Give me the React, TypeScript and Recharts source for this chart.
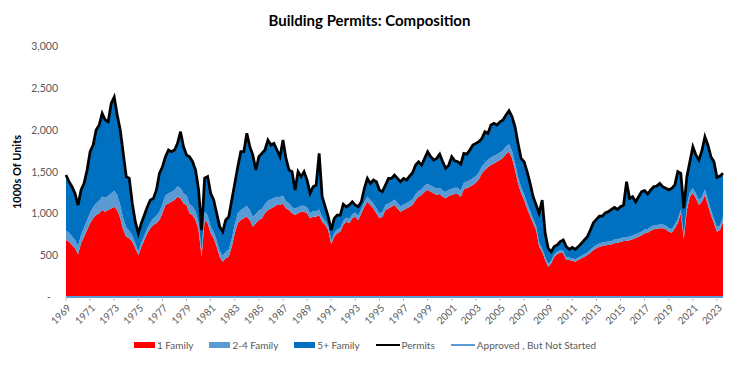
import React from 'react';
import { ComposedChart, Area, Line, XAxis, YAxis } from 'recharts';

// quarterly readings, thousands of units (SAAR), first point = 1969 Q1
const START_YEAR = 1969;

const permits = [
  1458, 1378, 1318, 1239, // 1969
  1099, 1279, 1358, 1518,
  1737, 1816, 1996, 2055,
  2195, 2115, 2095, 2314,
  2390, 2175, 1996, 1717,
  1438, 1418, 1119, 900,
  760, 881, 980, 1079,
  1159, 1179, 1279, 1478,
  1557, 1677, 1757, 1737,
  1757, 1836, 1976, 1796,
  1697, 1677, 1617, 1518, // 1979
  1279, 800, 1420, 1440,
  1239, 1159, 1000, 841,
  781, 920, 960, 1159,
  1358, 1557, 1737, 1737,
  1956, 1796, 1697, 1518,
  1677, 1717, 1757, 1876,
  1816, 1836, 1757, 1677,
  1876, 1657, 1518, 1498,
  1279, 1498, 1438, 1498,
  1398, 1239, 1318, 1338, // 1989
  1717, 1199, 1079, 960,
  800, 940, 980, 980,
  1110, 1079, 1099, 1139,
  1099, 1079, 1139, 1299,
  1418, 1358, 1398, 1378,
  1279, 1259, 1338, 1418,
  1418, 1458, 1418, 1378,
  1418, 1398, 1446, 1486,
  1577, 1617, 1577, 1657,
  1737, 1677, 1637, 1657, // 1999
  1708, 1617, 1538, 1577,
  1677, 1629, 1617, 1589,
  1717, 1708, 1757, 1816,
  1836, 1856, 1896, 1976,
  1956, 2055, 2075, 2055,
  2095, 2115, 2175, 2226,
  2155, 2035, 1836, 1657,
  1617, 1498, 1358, 1199,
  1100, 1000, 1159, 761,
  582, 542, 602, 622, // 2009
  661, 681, 602, 570,
  594, 570, 602, 641,
  681, 721, 801, 888,
  928, 968, 968, 1008,
  1020, 1047, 1071, 1047,
  1079, 1099, 1378, 1179,
  1199, 1139, 1199, 1259,
  1271, 1231, 1279, 1318,
  1326, 1358, 1318, 1299,
  1279, 1299, 1338, 1498, // 2019
  1478, 1060, 1438, 1617,
  1796, 1697, 1637, 1749,
  1916, 1816, 1677, 1617,
  1430, 1446, 1478,
];

const oneFamily = [
  681, 661, 622, 582, // 1969
  510, 641, 721, 801,
  881, 940, 980, 1000,
  1040, 1020, 1040, 1059,
  1079, 1040, 940, 801,
  721, 701, 661, 582,
  502, 602, 681, 761,
  821, 860, 881, 920,
  1000, 1099, 1119, 1139,
  1159, 1199, 1179, 1119,
  1099, 1000, 980, 920, // 1979
  801, 482, 920, 881,
  761, 701, 602, 482,
  422, 462, 482, 602,
  761, 881, 920, 940,
  960, 920, 841, 881,
  920, 940, 1000, 1040,
  1059, 1079, 1099, 1099,
  1119, 1059, 1040, 1000,
  980, 1000, 1020, 1020,
  1000, 940, 960, 960, // 1989
  980, 900, 860, 801,
  630, 721, 761, 781,
  860, 900, 881, 940,
  960, 920, 1000, 1079,
  1139, 1099, 1059, 1000,
  940, 960, 1040, 1059,
  1079, 1099, 1059, 1020,
  1040, 1059, 1079, 1099,
  1159, 1199, 1219, 1259,
  1279, 1259, 1239, 1219, // 1999
  1231, 1199, 1179, 1207,
  1219, 1231, 1231, 1199,
  1287, 1299, 1318, 1338,
  1366, 1406, 1478, 1518,
  1550, 1577, 1597, 1617,
  1637, 1665, 1708, 1737,
  1657, 1518, 1358, 1239,
  1159, 1059, 968, 881,
  800, 602, 540, 442,
  363, 402, 482, 514, // 2009
  530, 522, 442, 442,
  434, 422, 442, 462,
  482, 502, 530, 562,
  582, 602, 610, 618,
  622, 630, 641, 649,
  657, 669, 669, 677,
  689, 705, 721, 737,
  761, 769, 793, 809,
  817, 821, 821, 809,
  781, 769, 821, 880, // 2019
  1000, 689, 1040, 1199,
  1239, 1179, 1099, 1139,
  1219, 1099, 980, 881,
  781, 801, 900,
];

const twoToFour = [
  110, 110, 105, 100, // 1969
  100, 105, 110, 120,
  125, 135, 145, 150,
  160, 165, 170, 180,
  190, 180, 160, 140,
  110, 90, 70, 60,
  45, 50, 55, 60,
  70, 80, 90, 100,
  110, 115, 120, 120,
  120, 125, 125, 120,
  115, 110, 105, 100, // 1979
  90, 70, 100, 95,
  85, 80, 75, 70,
  70, 80, 85, 95,
  110, 120, 120, 125,
  130, 120, 115, 110,
  115, 115, 110, 110,
  110, 105, 100, 95,
  95, 85, 80, 75,
  75, 75, 70, 70,
  70, 65, 65, 65, // 1989
  65, 60, 55, 50,
  45, 45, 45, 45,
  50, 50, 50, 50,
  50, 50, 55, 55,
  60, 60, 60, 60,
  60, 60, 60, 60,
  60, 65, 65, 65,
  65, 65, 65, 70,
  70, 70, 70, 75,
  75, 75, 75, 75, // 1999
  75, 75, 75, 75,
  75, 75, 75, 75,
  80, 80, 80, 80,
  80, 85, 85, 85,
  90, 90, 90, 90,
  90, 90, 90, 90,
  90, 85, 80, 75,
  70, 65, 60, 55,
  50, 45, 40, 35,
  30, 30, 30, 30, // 2009
  30, 30, 30, 30,
  30, 30, 30, 30,
  30, 30, 35, 35,
  40, 40, 40, 40,
  40, 40, 45, 45,
  45, 45, 45, 45,
  45, 45, 45, 45,
  45, 45, 45, 45,
  45, 45, 45, 45,
  45, 45, 45, 50, // 2019
  50, 40, 50, 55,
  60, 60, 60, 60,
  65, 60, 60, 55,
  55, 55, 55,
];

const yearTicks = [
  1969, 1971, 1973, 1975, 1977, 1979, 1981, 1983, 1985, 1987, 1989, 1991, 1993, 1995,
  1997, 1999, 2001, 2003, 2005, 2007, 2009, 2011, 2013, 2015, 2017, 2019, 2021, 2023,
];
const valueTicks = [0, 500, 1000, 1500, 2000, 2500, 3000];

const RED = '#FF0000';
const LIGHT_BLUE = '#5B9BD5';
const DARK_BLUE = '#0070C0';
const FONT = 'Lato, "Liberation Sans", Arial, sans-serif';

const legendItems = [
  { label: '1 Family', color: RED, kind: 'box' },
  { label: '2-4 Family', color: LIGHT_BLUE, kind: 'box' },
  { label: '5+ Family', color: DARK_BLUE, kind: 'box' },
  { label: 'Permits', color: '#000000', kind: 'line' },
  { label: 'Approved , But Not Started', color: LIGHT_BLUE, kind: 'line' },
];

const data = permits.map((total, i) => ({
  t: START_YEAR + i / 4,
  oneFamily: oneFamily[i],
  twoToFour: twoToFour[i],
  fivePlus: total - oneFamily[i] - twoToFour[i],
  permits: total,
}));

function YTick(props: any) {
  const { x, y, payload } = props;
  const v = payload.value;
  const label = v === 0 ? '-' : v.toLocaleString('en-US');
  return (
    <text
      x={v === 0 ? x - 7 : x}
      y={y}
      dy={4}
      textAnchor="end"
      fill="#595959"
      fontSize={10.5}
      fontFamily={FONT}
    >
      {label}
    </text>
  );
}

function XTick(props: any) {
  const { x, y, payload } = props;
  return (
    <g transform={`translate(${x},${y})`}>
      <text
        x={0}
        y={0}
        dy={8}
        textAnchor="end"
        fill="#595959"
        fontSize={10}
        fontFamily={FONT}
        transform="rotate(-45)"
      >
        {payload.value}
      </text>
    </g>
  );
}

export default function App() {
  return (
    <div style={{ position: 'absolute', left: 0, top: 0, width: 739, height: 369, background: '#fff', fontFamily: FONT }}>
      <div
        style={{
          position: 'absolute',
          top: 10,
          left: 0,
          width: 739,
          textAlign: 'center',
          fontSize: 15,
          fontWeight: 700,
          color: '#000',
          lineHeight: '20px',
        }}
      >
        Building Permits: Composition
      </div>
      <div
        style={{
          position: 'absolute',
          left: 16,
          top: 172,
          transform: 'translate(-50%, -50%) rotate(-90deg)',
          fontSize: 11,
          fontWeight: 700,
          color: '#000',
          whiteSpace: 'nowrap',
        }}
      >
        1000s Of Units
      </div>
      <ComposedChart
        width={739}
        height={369}
        data={data}
        margin={{ top: 46, right: 16, left: 0, bottom: 22 }}
      >
        <XAxis
          dataKey="t"
          type="number"
          domain={[1969, 2023.5]}
          ticks={yearTicks}
          interval={0}
          height={50}
          axisLine={{ stroke: LIGHT_BLUE, strokeWidth: 2 }}
          tickLine={{ stroke: '#BFBFBF' }}
          tickSize={4}
          tick={<XTick />}
        />
        <YAxis
          domain={[0, 3000]}
          ticks={valueTicks}
          width={66}
          axisLine={false}
          tickLine={false}
          tick={<YTick />}
        />
        <Area
          type="linear"
          dataKey="oneFamily"
          name="1 Family"
          stackId="1"
          stroke="none"
          fill={RED}
          fillOpacity={1}
          isAnimationActive={false}
        />
        <Area
          type="linear"
          dataKey="twoToFour"
          name="2-4 Family"
          stackId="1"
          stroke="none"
          fill={LIGHT_BLUE}
          fillOpacity={1}
          isAnimationActive={false}
        />
        <Area
          type="linear"
          dataKey="fivePlus"
          name="5+ Family"
          stackId="1"
          stroke="none"
          fill={DARK_BLUE}
          fillOpacity={1}
          isAnimationActive={false}
        />
        <Line
          type="linear"
          dataKey="permits"
          name="Permits"
          stroke="#000000"
          strokeWidth={2.75}
          dot={false}
          isAnimationActive={false}
        />
      </ComposedChart>
      <div
        style={{
          position: 'absolute',
          top: 339,
          left: 134,
          display: 'flex',
          alignItems: 'center',
          fontSize: 10,
          color: '#595959',
        }}
      >
        {legendItems.map((item, i) => (
          <div
            key={item.label}
            style={{ display: 'flex', alignItems: 'center', marginRight: i < legendItems.length - 1 ? 16 : 0 }}
          >
            <span
              style={{
                display: 'inline-block',
                width: item.kind === 'box' ? 21 : 24,
                height: item.kind === 'box' ? 6 : 2,
                background: item.color,
                marginRight: 2,
              }}
            />
            <span>{item.label}</span>
          </div>
        ))}
      </div>
    </div>
  );
}
